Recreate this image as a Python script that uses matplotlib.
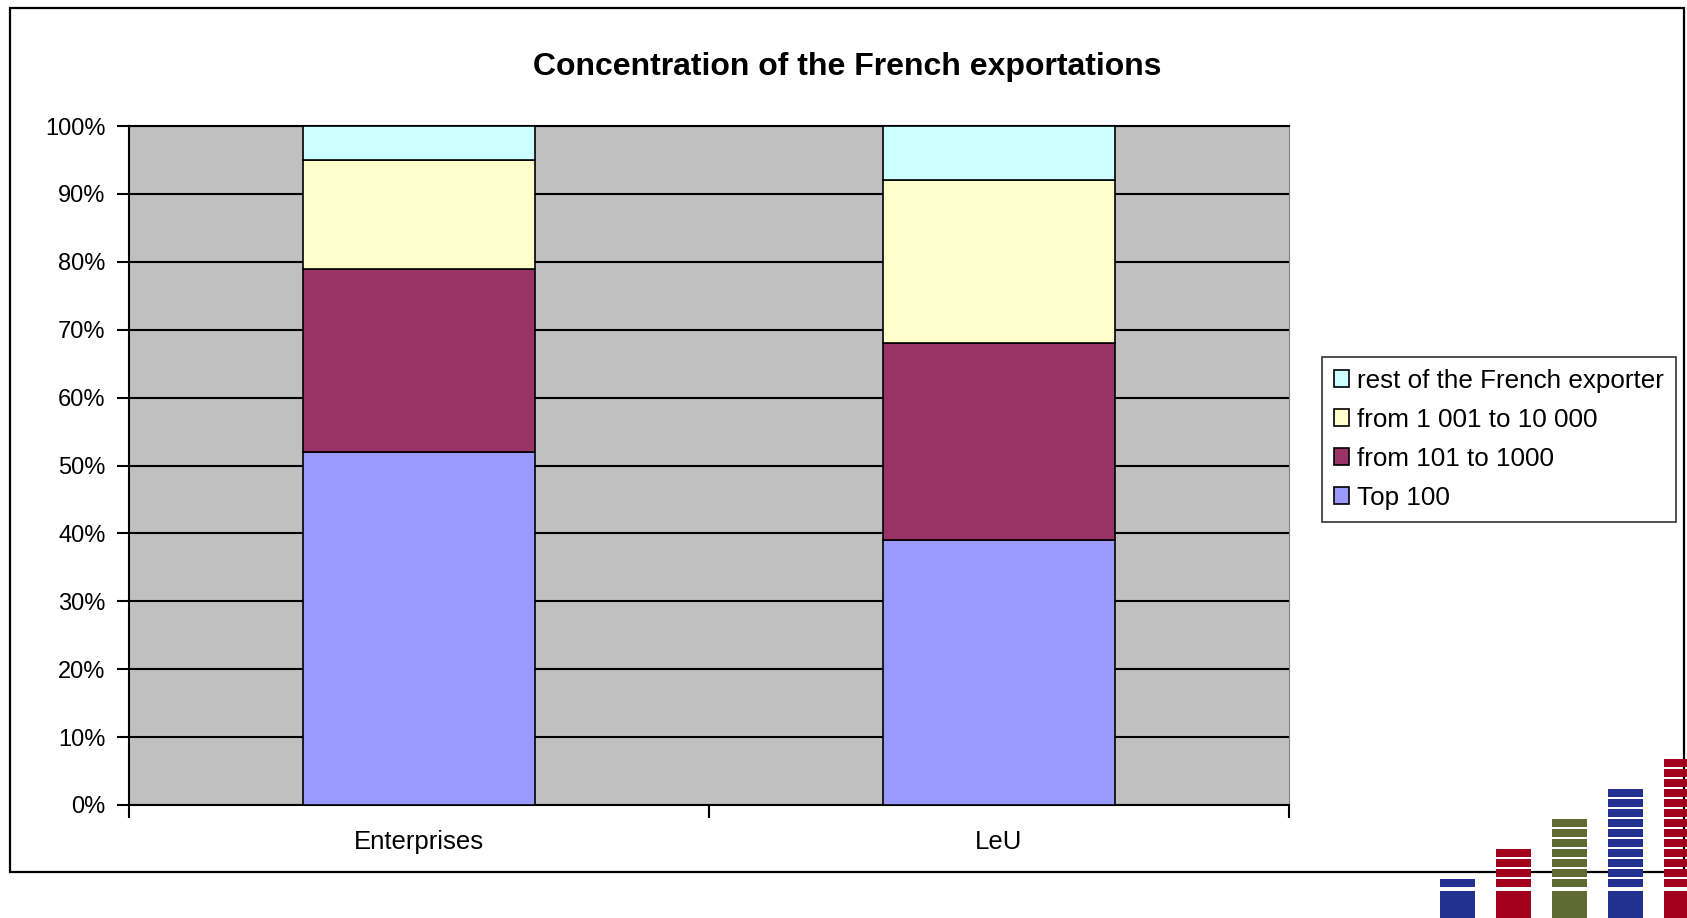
import matplotlib.pyplot as plt
from matplotlib.patches import Rectangle
import numpy as np

plt.rcParams['font.family'] = ['Liberation Sans', 'DejaVu Sans']

# data (share of French exports, %)
categories = ['Enterprises', 'LeU']
series_names = ['Top 100', 'from 101 to 1000', 'from 1 001 to 10 000', 'rest of the French exporter']
top100 = [52, 39]
from101 = [27, 29]
from1001 = [16, 24]
rest = [5, 8]
colors = ['#9999ff', '#993366', '#ffffcc', '#ccffff']
yticks = [0, 10, 20, 30, 40, 50, 60, 70, 80, 90, 100]

# logo: stripes per column
logo_stripes = [1, 4, 7, 10, 13]
logo_colors = ['#22308f', '#a3001e', '#5f6b32', '#22308f', '#a3001e']

fig = plt.figure(figsize=(16.87, 9.18), dpi=100)
ax = fig.add_axes([0.0765, 0.1231, 0.6876, 0.7396])
ax.set_facecolor('#c0c0c0')

x = np.arange(len(categories))
bottom = np.zeros(len(categories))
for vals, name, c in zip([top100, from101, from1001, rest], series_names, colors):
    ax.bar(x, vals, 0.4, bottom=bottom, color=c, edgecolor='black', linewidth=1.2,
           label=name, zorder=3)
    bottom += np.array(vals)

ax.set_xlim(-0.5, len(categories) - 0.5)
ax.set_ylim(0, 100)
ax.set_yticks(yticks)
ax.set_yticklabels([f'{v}%' for v in yticks], fontsize=17)
ax.yaxis.grid(True, color='black', linewidth=1.5, zorder=1)
ax.set_axisbelow(True)

# category boundary ticks, labels in the middle
ax.set_xticks(np.arange(len(categories) + 1) - 0.5)
ax.set_xticklabels([])
ax.set_xticks(x, minor=True)
ax.set_xticklabels(categories, minor=True, fontsize=18.5)
ax.tick_params(axis='x', which='minor', length=0, pad=18)
ax.tick_params(axis='x', which='major', length=9, width=1.5)
ax.tick_params(axis='y', length=9, width=1.5, pad=8)

for side in ['left', 'bottom']:
    ax.spines[side].set_linewidth(1.5)
    ax.spines[side].set_color('black')
ax.spines['right'].set_color('#808080')
ax.spines['top'].set_color('black')
ax.spines['top'].set_linewidth(1.5)

fig.text(0.5025, 0.927, 'Concentration of the French exportations', ha='center', va='center',
         fontsize=23, fontweight='bold')

handles, labels = ax.get_legend_handles_labels()
leg = fig.legend(handles[::-1], labels[::-1], loc='upper left',
                 bbox_to_anchor=(1322 / 1687, 1 - 357 / 918), borderaxespad=0,
                 fontsize=18.7, frameon=True, fancybox=False, edgecolor='black',
                 handlelength=0.6, handleheight=0.6, handletextpad=0.3,
                 labelspacing=0.58, borderpad=0.45)
leg.get_frame().set_linewidth(1.2)

# outer chart frame
fig.add_artist(Rectangle((0.0059, 0.0501), 0.9923, 0.941, transform=fig.transFigure,
                         fill=False, edgecolor='black', linewidth=1.6))

# logo in the bottom-right corner
lax = fig.add_axes([0.8494, 0.0, 0.1506, 0.209])
lax.set_facecolor('white')
lax.set_zorder(5)
for i, (n, c) in enumerate(zip(logo_stripes, logo_colors)):
    lax.bar(i, 3.7, 0.625, bottom=-1, color=c, linewidth=0)
    for k in range(n):
        lax.bar(i, 0.8, 0.625, bottom=3.1 + k, color=c, linewidth=0)
lax.set_xlim(-0.446, 4.09)
lax.set_ylim(0, 19.2)
lax.axis('off')
lax.patch.set_visible(True)

fig.savefig('out.png', dpi=100)
